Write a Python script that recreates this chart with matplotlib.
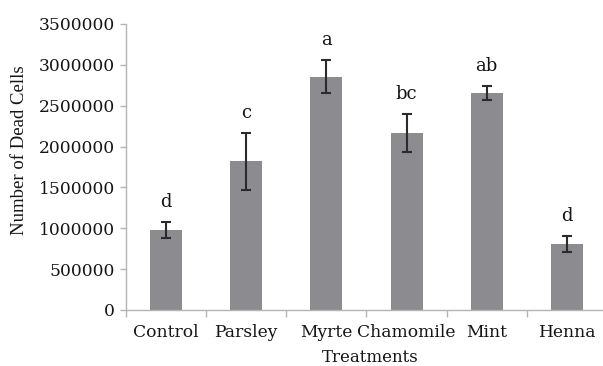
"""
Bar chart of dead cell counts per treatment, with error bars and group letters.
"""

import numpy as np
import matplotlib.pyplot as plt

# data
treatments = ['Control', 'Parsley', 'Myrte', 'Chamomile', 'Mint', 'Henna']
dead_cells = [980000, 1820000, 2855000, 2165000, 2655000, 805000]
errors = [95000, 350000, 200000, 235000, 85000, 100000]
groups = ['d', 'c', 'a', 'bc', 'ab', 'd']
y_ticks = [0, 500000, 1000000, 1500000, 2000000, 2500000, 3000000, 3500000]

axis_grey = '#b4b4b4'
bar_grey = '#8c8c90'
text_col = '#151515'

plt.close('all')
fig = plt.figure(figsize=(6.03, 3.66), dpi=100)
ax = fig.add_axes([126/603, 1 - 310/366, (607 - 126)/603, (310 - 24)/366])

x = np.arange(len(treatments))
ax.bar(x, dead_cells, width=0.4, color=bar_grey, zorder=2)
ax.errorbar(x, dead_cells, yerr=errors, fmt='none', ecolor='#2b2b2b',
            elinewidth=1.5, capsize=3.4, capthick=1.5, zorder=3)

for xi, yi, ei, g in zip(x, dead_cells, errors, groups):
    ax.annotate(g, (xi, yi + ei), xytext=(0, 11), textcoords='offset pixels',
                ha='center', va='bottom', family='DejaVu Serif',
                fontsize=13, color=text_col)

ax.set_xlim(-0.5, len(treatments) - 0.5)
ax.set_ylim(0, 3500000)
ax.set_yticks(y_ticks)
ax.set_yticklabels([str(v) for v in y_ticks])

# category boundaries get the tick marks, names sit in between
ax.set_xticks(np.arange(len(treatments) + 1) - 0.5)
ax.set_xticklabels([])
ax.set_xticks(x, minor=True)
ax.set_xticklabels(treatments, minor=True)
ax.tick_params(axis='x', which='major', length=5, color=axis_grey, width=1)
ax.tick_params(axis='x', which='minor', length=0, pad=10, labelsize=12.3,
               labelcolor=text_col)
ax.tick_params(axis='y', length=4, color=axis_grey, width=1, pad=4,
               labelsize=12.3, labelcolor=text_col)
for lab in ax.get_xticklabels(minor=True) + ax.get_yticklabels():
    lab.set_family('DejaVu Serif')

for side in ['top', 'right']:
    ax.spines[side].set_visible(False)
for side in ['left', 'bottom']:
    ax.spines[side].set_color(axis_grey)
    ax.spines[side].set_linewidth(1)

fig.text(20/603, 1 - 150/366, 'Number of Dead Cells', rotation=90,
         ha='center', va='center', family='Liberation Serif', fontsize=13.5,
         color=text_col)
fig.text(370/603, 1 - 357/366, 'Treatments', ha='center', va='center',
         family='DejaVu Serif', fontsize=12, color=text_col)

fig.savefig('out.png', dpi=100)
